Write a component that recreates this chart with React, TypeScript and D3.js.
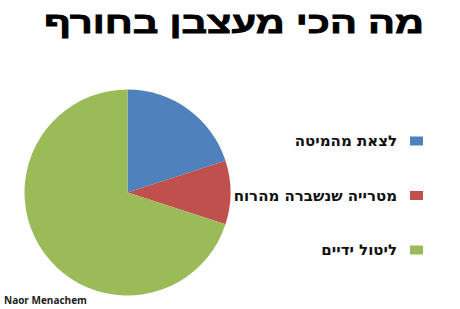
import React, { useEffect, useRef } from "react";
import * as d3 from "d3";

const categories = ["לצאת מהמיטה", "מטרייה שנשברה מהרוח", "ליטול ידיים"];
const values = [20, 10, 70];
const colors = ["#4f81bd", "#c0504d", "#9bbb59"];
const title = "מה הכי מעצבן בחורף";
const credit = "Naor Menachem";

export default function App() {
  const ref = useRef<SVGSVGElement>(null);
  useEffect(() => {
    const svg = d3.select(ref.current);
    svg.selectAll("*").remove();
    svg.append("rect").attr("width", 460).attr("height", 309).attr("fill", "#fff");
    svg.append("text")
      .attr("x", 234).attr("y", 33)
      .attr("text-anchor", "middle")
      .attr("font-family", "Liberation Sans")
      .attr("font-weight", "bold")
      .attr("font-size", 29)
      .attr("direction", "rtl")
      .attr("textLength", 380)
      .attr("lengthAdjust", "spacingAndGlyphs")
      .attr("stroke", "#000")
      .attr("stroke-width", 0.8)
      .text(title);

    const pie = d3.pie<number>().sort(null).value((d) => d);
    const arc = d3.arc<d3.PieArcDatum<number>>().innerRadius(0).outerRadius(103);
    const g = svg.append("g").attr("transform", "translate(127.5,192.5)");
    g.selectAll("path").data(pie(values)).join("path")
      .attr("d", arc as any)
      .attr("fill", (_, i) => colors[i]);

    const ly = d3.scalePoint<string>().domain(categories).range([141, 250]);
    const lg = svg.append("g");
    categories.forEach((c, i) => {
      const y = ly(c)!;
      lg.append("rect").attr("x", 410).attr("y", y - 4.5).attr("width", 13).attr("height", 9).attr("fill", colors[i]);
      lg.append("text")
        .attr("x", 397).attr("y", y + 5)
        .attr("text-anchor", "start")
        .attr("direction", "rtl")
        .attr("font-family", "DejaVu Sans")
        .attr("font-weight", "bold")
        .attr("font-size", 15)
        .attr("fill", "#111")
        .text(c);
    });

    svg.append("text")
      .attr("x", 4).attr("y", 304)
      .attr("font-family", "Open Sans")
      .attr("font-weight", "bold")
      .attr("font-size", 10)
      .attr("fill", "#222")
      .text(credit);
  }, []);
  return (
    <svg ref={ref} width={460} height={309} style={{ position: "absolute", left: 0, top: 0 }} />
  );
}
